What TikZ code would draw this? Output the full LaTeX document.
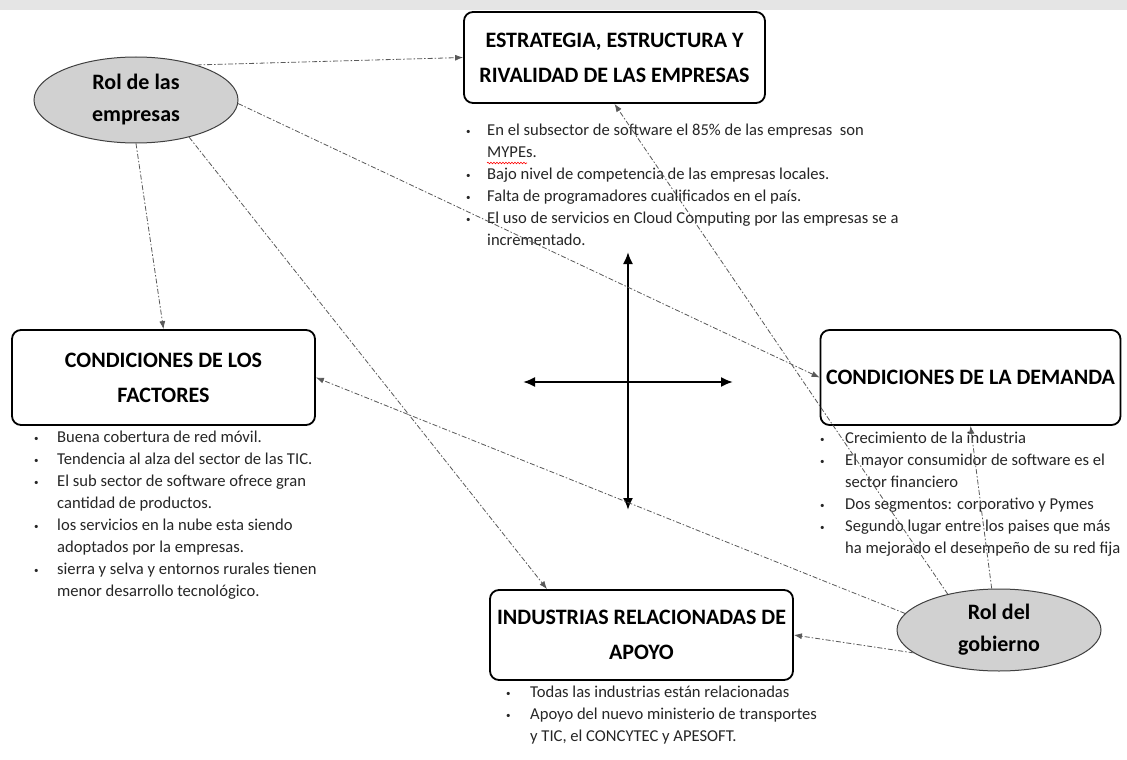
\documentclass[tikz,border=0pt]{standalone}
\usepackage{fontspec}
\setmainfont{Carlito}
\usetikzlibrary{arrows.meta,calc,shapes.geometric,decorations.pathmorphing}

% bullet of a fixed indent, and the matching indent for wrapped lines
\newcommand\blt[1]{\makebox[#1][l]{\raisebox{1.5pt}{\fontsize{9}{9}\selectfont\textbullet}}}
\newcommand\cnt[1]{\hspace*{#1}}

\begin{document}
\begin{tikzpicture}[x=1pt,y=-1pt,
  forcebox/.style={draw=black, line width=1.8pt, rounded corners=9pt, fill=white,
    font=\fontsize{22}{35}\selectfont\bfseries, align=center, inner sep=0pt},
  actor/.style={ellipse, draw=black!75, line width=1pt, fill=black!18,
    font=\fontsize{22}{32}\selectfont\bfseries, align=center, inner sep=0pt},
  facts/.style={font=\fontsize{16.6}{22}\selectfont, align=left, anchor=north west,
    inner sep=0pt, text=black!85},
  link/.style={draw=black!65, line width=0.8pt,
    dash pattern=on 5pt off 2pt on 1.5pt off 2pt,
    -{Latex[length=8pt,width=6pt]}},
  cross/.style={line width=2pt, {Latex[length=12pt,width=10pt]}-{Latex[length=12pt,width=10pt]}}
]
\useasboundingbox (0,0) rectangle (1127,760);
\fill[white] (0,0) rectangle (1127,760);
\fill[black!10] (0,0) rectangle (1127,10);

% the four determinants
\node[forcebox, minimum width=301pt, minimum height=91pt] (est) at (614.5,57.5)
  {ESTRATEGIA, ESTRUCTURA Y\\RIVALIDAD DE LAS EMPRESAS};
\node[forcebox, minimum width=303pt, minimum height=95pt] (fac) at (163.5,377.5)
  {CONDICIONES DE LOS\\FACTORES};
\node[forcebox, minimum width=300pt, minimum height=95pt] (dem) at (970.5,377.5)
  {CONDICIONES DE LA DEMANDA};
\node[forcebox, minimum width=303pt, minimum height=90pt] (ind) at (641.5,635)
  {INDUSTRIAS RELACIONADAS DE\\APOYO};

% the two actors
\node[actor, minimum width=204pt, minimum height=86pt] (emp) at (136,100)
  {Rol de las\\empresas};
\node[actor, minimum width=204pt, minimum height=82pt] (gob) at (999,630)
  {Rol del\\gobierno};

% notes under each determinant
\node[facts] (lest) at (466,124) {%
  \blt{21pt}En el subsector de software el 85\% de las empresas\ \ son\\
  \cnt{21pt}MYPEs.\\
  \blt{21pt}Bajo nivel de competencia de las empresas locales.\\
  \blt{21pt}Falta de programadores cualificados en el país.\\
  \blt{21pt}El uso de servicios en Cloud Computing por las empresas se a\\
  \cnt{21pt}incrementado.};
\draw[red, line width=0.6pt, decorate, decoration={snake, amplitude=0.8pt, segment length=3pt}]
  (487,163) -- (527,163);

\node[facts] (lfac) at (34,431) {%
  \blt{23pt}Buena cobertura de red móvil.\\
  \blt{23pt}Tendencia al alza del sector de las TIC.\\
  \blt{23pt}El sub sector de software ofrece gran\\
  \cnt{23pt}cantidad de productos.\\
  \blt{23pt}los servicios en la nube esta siendo\\
  \cnt{23pt}adoptados por la empresas.\\
  \blt{23pt}sierra y selva y entornos rurales tienen\\
  \cnt{23pt}menor desarrollo tecnológico.};

\node[facts] (ldem) at (820,432) {%
  \blt{25pt}Crecimiento de la industria\\
  \blt{25pt}El mayor consumidor de software es el\\
  \cnt{25pt}sector financiero\\
  \blt{25pt}Dos segmentos: corporativo y Pymes\\
  \blt{25pt}Segundo lugar entre los paises que más\\
  \cnt{25pt}ha mejorado el desempeño de su red fija};

\node[facts] (lind) at (506,686) {%
  \blt{24pt}Todas las industrias están relacionadas\\
  \blt{24pt}Apoyo del nuevo ministerio de transportes\\
  \cnt{24pt}y TIC, el CONCYTEC y APESOFT.};

% central cross
\coordinate (ctop) at (628,252);
\coordinate (cbot) at (628,510);
\coordinate (cleft) at (523,382);
\coordinate (cright) at (733,382);
\draw[cross] (ctop) -- (cbot);
\draw[cross] (cleft) -- (cright);

% influence of the firms
\draw[link] (emp.30) -- (est.west);
\draw[link] (emp.-2) -- (dem.west);
\draw[link] (emp.south) -- (fac.north);
\draw[link] (emp.-35) -- ($(ind.north west)!0.19!(ind.north east)$);

% influence of the government
\draw[link] (gob.145) -- (est.south);
\draw[link] (gob.100) -- (dem.south);
\draw[link] (gob.170) -- (fac.east);
\draw[link] (gob.195) -- (ind.east);
\end{tikzpicture}
\end{document}
